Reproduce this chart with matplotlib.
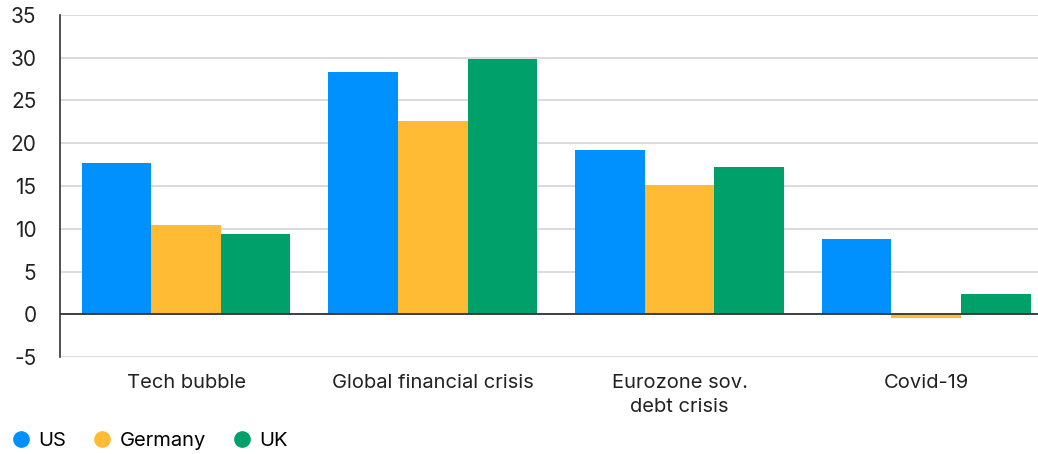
import numpy as np
import matplotlib.pyplot as plt
from matplotlib.lines import Line2D

plt.rcParams['font.family'] = ['Inter', 'DejaVu Sans']
plt.rcParams['axes.unicode_minus'] = False

categories = ["Tech bubble", "Global financial crisis", "Eurozone sov.\ndebt crisis", "Covid-19"]
series = ["US", "Germany", "UK"]
us = [17.7, 28.3, 19.2, 8.8]
germany = [10.4, 22.6, 15.1, -0.4]
uk = [9.4, 29.9, 17.2, 2.4]
colors = ["#0091FF", "#FFBB33", "#00A06B"]

fig = plt.figure(figsize=(10.38, 4.54), dpi=100)
ax = fig.add_axes([60 / 1038, 1 - 357 / 454, 1 - 60 / 1038, (357 - 15) / 454])

x = np.arange(len(categories))
w = 0.282
for i, (vals, c) in enumerate(zip([us, germany, uk], colors)):
    ax.bar(x + (i - 1) * w, vals, width=w, color=c, zorder=3)

ax.set_ylim(-5, 35)
ax.set_yticks(range(-5, 36, 5))
ax.set_xlim(-0.511, 3.453)
ax.set_xticks(x)
ax.set_xticklabels(categories, fontsize=14.5, color="#222222", linespacing=1.45)
ax.tick_params(axis="x", length=0, pad=12)
ax.tick_params(axis="y", length=0, pad=17, labelsize=15, labelcolor="#222222")
ax.grid(axis="y", color="#d4d4d4", linewidth=1.2, zorder=0)
ax.axhline(0, color="#333333", linewidth=1.3, zorder=4)
for s in ["top", "right", "bottom"]:
    ax.spines[s].set_visible(False)
ax.spines["left"].set_color("#333333")
ax.spines["left"].set_linewidth(1.2)

handles = [Line2D([], [], marker="o", linestyle="", markersize=11, color=c, label=s)
           for s, c in zip(series, colors)]
fig.legend(handles=handles, loc="center left", bbox_to_anchor=(11 / 1038, 1 - 441 / 454), ncol=3,
           frameon=False, fontsize=14.5, handletextpad=0.35, columnspacing=1.3,
           borderaxespad=0.0, borderpad=0.0, handlelength=1.0)

fig.savefig("out.png", dpi=100)
